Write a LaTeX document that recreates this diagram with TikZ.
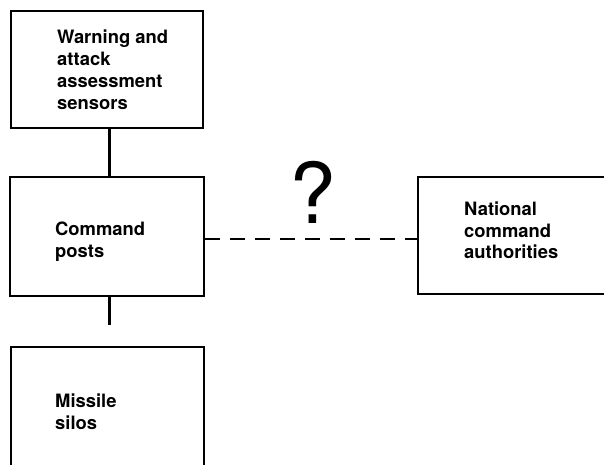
\documentclass[tikz,border=0pt]{standalone}
\usepackage{fontspec}
\setmainfont{TeX Gyre Heros}
\usetikzlibrary{calc}
\tikzset{
  box/.style={draw=black, line width=2.6pt, rectangle, inner sep=0pt},
  lbl/.style={anchor=north west, inner sep=0pt, align=left,
    font=\fontsize{18.4}{21.7}\selectfont\bfseries},
  link/.style={draw=black, line width=3pt},
  dlink/.style={draw=black, line width=2.8pt, dash pattern=on 15pt off 9.9pt},
}
\begin{document}
\begin{tikzpicture}[x=1pt,y=-1pt]
\clip (0,0) rectangle (604,464);
\fill[white] (0,0) rectangle (604,464);
% boxes
\node[box, minimum width=192pt, minimum height=117pt] (b1) at (107,69.5) {};
\node[box, minimum width=194pt, minimum height=119pt] (b2) at (107,236.5) {};
\node[box, minimum width=193pt, minimum height=140pt] (b3) at (107.5,417) {};
\node[box, minimum width=210pt, minimum height=117pt] (b4) at (523,235.5) {};
% labels
\node[lbl] (t1) at (57,30) {Warning and\\attack\\assessment\\sensors};
\node[lbl] (t2) at (55,221.5) {Command\\posts};
\node[lbl] (t3) at (55,394) {Missile\\silos};
\node[lbl] (t4) at (464,201.5) {National\\command\\authorities};
% connectors
\coordinate (stub) at (109,325);
\draw[link] ([xshift=2pt]b1.south) -- ([xshift=2pt]b1.south |- b2.north);
\draw[link] (stub |- b2.south) -- (stub);
\draw[dlink] (b2.east |- 0,239) -- (b4.west |- 0,239);
\node[anchor=base, inner sep=0pt, font=\fontsize{84}{84}\selectfont] (q) at (313,223) {?};
\end{tikzpicture}
\end{document}
